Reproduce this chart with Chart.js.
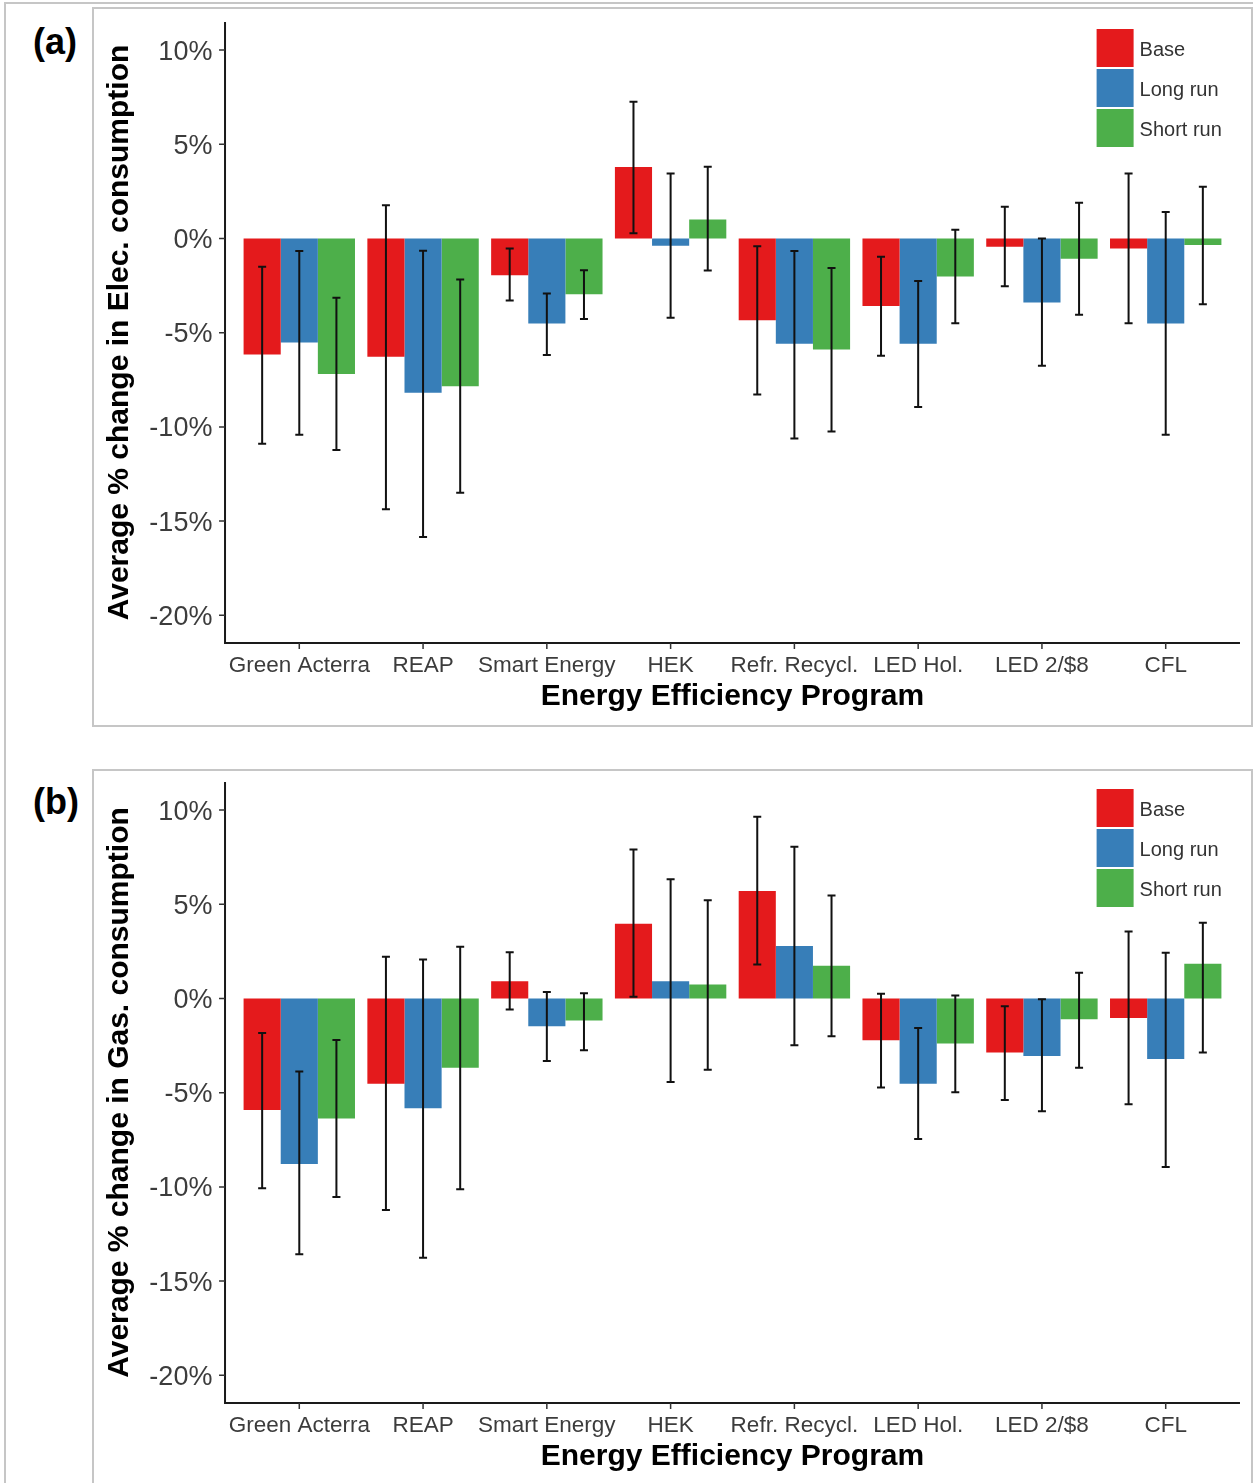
<!DOCTYPE html>
<html>
<head>
<meta charset="utf-8">
<title>Energy Efficiency Programs</title>
<script src="https://cdn.jsdelivr.net/npm/chart.js@4.4.1/dist/chart.umd.min.js"></script>
<style>
    body {
        margin: 0;
        background: #fff;
        width: 1253px;
        height: 1483px;
        overflow: hidden;
        position: relative;
        font-family: 'Liberation Sans', Arial, sans-serif;
    }
    .frame {
        position: absolute;
        border: 2px solid #c6c6c6;
        box-sizing: border-box;
    }
    #outer { left: 4px; top: 2px; width: 1400px; height: 1600px; }
    #box-a { left: 92px; top: 7px; width: 1161px; height: 720px; }
    #box-b { left: 92px; top: 769px; width: 1161px; height: 800px; }
    .tag {
        position: absolute;
        left: 33px;
        font-weight: bold;
        font-size: 36px;
        line-height: 36px;
        color: #000;
    }
    canvas { position: absolute; left: 0; }
</style>
</head>
<body>
<div class="frame" id="outer"></div>
<div class="frame" id="box-a"></div>
<div class="frame" id="box-b"></div>
<div class="tag" style="top: 24px;">(a)</div>
<div class="tag" style="top: 784px;">(b)</div>
<canvas id="elec-chart" width="1253" height="723" style="top: 0px;"></canvas>
<canvas id="gas-chart" width="1253" height="723" style="top: 760px;"></canvas>

<script>
// programs on the x axis
const programs = ['Green Acterra', 'REAP', 'Smart Energy', 'HEK', 'Refr. Recycl.', 'LED Hol.', 'LED 2/$8', 'CFL'];
const seriesNames = ['Base', 'Long run', 'Short run'];
const seriesColors = ['#E41A1C', '#377EB8', '#4DAF4A'];
const yTickValues = [-20, -15, -10, -5, 0, 5, 10];

// (a) electricity, % change with interval bounds
const elecBase    = [-6.16, -6.28, -1.95, 3.79, -4.34, -3.59, -0.44, -0.53];
const elecBaseLo  = [-10.90, -14.37, -3.29, 0.28, -8.28, -6.23, -2.53, -4.50];
const elecBaseHi  = [-1.50, 1.77, -0.53, 7.26, -0.41, -0.97, 1.68, 3.45];
const elecLong    = [-5.52, -8.19, -4.51, -0.39, -5.59, -5.59, -3.40, -4.51];
const elecLongLo  = [-10.42, -15.85, -6.19, -4.21, -10.62, -8.94, -6.76, -10.42];
const elecLongHi  = [-0.67, -0.65, -2.92, 3.45, -0.67, -2.25, 0.00, 1.40];
const elecShort   = [-7.19, -7.84, -2.96, 1.01, -5.89, -2.02, -1.08, -0.35];
const elecShortLo = [-11.22, -13.49, -4.27, -1.70, -10.25, -4.50, -4.05, -3.49];
const elecShortHi = [-3.15, -2.18, -1.68, 3.81, -1.56, 0.46, 1.89, 2.74];

// (b) gas
const gasBase    = [-5.92, -4.52, 0.92, 3.97, 5.71, -2.22, -2.87, -1.03];
const gasBaseLo  = [-10.07, -11.22, -0.59, 0.09, 1.81, -4.73, -5.39, -5.62];
const gasBaseHi  = [-1.83, 2.22, 2.45, 7.91, 9.65, 0.25, -0.41, 3.56];
const gasLong    = [-8.78, -5.82, -1.47, 0.92, 2.78, -4.52, -3.05, -3.21];
const gasLongLo  = [-13.58, -13.76, -3.32, -4.43, -2.48, -7.46, -5.99, -8.95];
const gasLongHi  = [-3.88, 2.07, 0.35, 6.33, 8.05, -1.56, -0.04, 2.43];
const gasShort   = [-6.37, -3.67, -1.17, 0.74, 1.74, -2.39, -1.10, 1.84];
const gasShortLo = [-10.53, -10.12, -2.75, -3.78, -2.00, -4.98, -3.67, -2.87];
const gasShortHi = [-2.20, 2.75, 0.28, 5.21, 5.46, 0.16, 1.37, 4.02];

const FONT = "'Liberation Sans', Arial, sans-serif";
Chart.defaults.font.family = FONT;

// axis lines, tick marks, error bars and the legend are drawn here
const panelDecor = {
    id: 'panelDecor',
    afterDatasetsDraw(chart) {
        const ctx = chart.ctx;
        const xs = chart.scales.x;
        const ys = chart.scales.y;
        const area = chart.chartArea;

        // error bars
        ctx.save();
        ctx.strokeStyle = '#111';
        ctx.lineWidth = 2;
        chart.data.datasets.forEach((ds, i) => {
            const meta = chart.getDatasetMeta(i);
            meta.data.forEach((bar, j) => {
                const top = ys.getPixelForValue(ds.errHi[j]);
                const bot = ys.getPixelForValue(ds.errLo[j]);
                const x = bar.x;
                ctx.beginPath();
                ctx.moveTo(x, top); ctx.lineTo(x, bot);
                ctx.moveTo(x - 4, top); ctx.lineTo(x + 4, top);
                ctx.moveTo(x - 4, bot); ctx.lineTo(x + 4, bot);
                ctx.stroke();
            });
        });
        ctx.restore();

        // axis lines with ggplot-style expansion (0.6 of a band each side)
        const band = xs.getPixelForValue(1) - xs.getPixelForValue(0);
        const left = xs.getPixelForValue(0) - 0.6 * band;
        const right = xs.getPixelForValue(programs.length - 1) + 0.6 * band;
        ctx.save();
        ctx.strokeStyle = '#1a1a1a';
        ctx.lineWidth = 2;
        ctx.beginPath();
        ctx.moveTo(left, area.top);
        ctx.lineTo(left, area.bottom);
        ctx.lineTo(right, area.bottom);
        ctx.stroke();
        ctx.strokeStyle = '#333';
        ctx.lineWidth = 1.5;
        ctx.beginPath();
        yTickValues.forEach(v => {
            const y = ys.getPixelForValue(v);
            ctx.moveTo(left - 6, y); ctx.lineTo(left, y);
        });
        programs.forEach((p, i) => {
            const x = xs.getPixelForValue(i);
            ctx.moveTo(x, area.bottom); ctx.lineTo(x, area.bottom + 6);
        });
        ctx.stroke();
        ctx.restore();

        // legend
        ctx.save();
        const lx = area.right - 131;
        const ly = area.top + 7;
        ctx.font = '20px ' + FONT;
        ctx.textBaseline = 'middle';
        chart.data.datasets.forEach((ds, i) => {
            const y = ly + i * 40;
            ctx.fillStyle = ds.backgroundColor;
            ctx.fillRect(lx, y, 37, 38);
            ctx.fillStyle = '#333';
            ctx.fillText(ds.label, lx + 43, y + 21);
        });
        ctx.restore();
    }
};

function makeChart(canvasId, yTitle, values, lows, highs) {
    const datasets = seriesNames.map((name, i) => ({
        label: name,
        data: values[i],
        errLo: lows[i],
        errHi: highs[i],
        backgroundColor: seriesColors[i],
        borderWidth: 0,
        categoryPercentage: 0.9,
        barPercentage: 1.0
    }));

    const ctx = document.getElementById(canvasId).getContext('2d');
    return new Chart(ctx, {
        type: 'bar',
        data: { labels: programs, datasets: datasets },
        options: {
            responsive: false,
            animation: false,
            devicePixelRatio: 1,
            layout: { padding: { left: 0, top: 22, right: 25.4, bottom: 0 } },
            plugins: {
                legend: { display: false },
                tooltip: { enabled: false }
            },
            scales: {
                x: {
                    offset: true,
                    grid: { display: false, drawTicks: false },
                    border: { display: false },
                    ticks: {
                        color: '#3c3c3c',
                        font: { size: 22.5 },
                        padding: 9,
                        maxRotation: 0,
                        autoSkip: false
                    },
                    title: {
                        display: true,
                        text: 'Energy Efficiency Program',
                        color: '#000',
                        font: { size: 30, weight: 'bold' },
                        padding: { top: 0, bottom: 8 }
                    },
                    afterFit: scale => {
                        scale.height = 80;
                        scale.paddingLeft = 0;
                        scale.paddingRight = 0;
                    }
                },
                y: {
                    min: -21.47,
                    max: 11.49,
                    grid: { display: false, drawTicks: false },
                    border: { display: false },
                    afterBuildTicks: scale => {
                        scale.ticks = yTickValues.map(v => ({ value: v }));
                    },
                    ticks: {
                        color: '#3c3c3c',
                        font: { size: 27 },
                        padding: 25,
                        labelOffset: 2,
                        callback: v => v + '%'
                    },
                    title: {
                        display: true,
                        text: yTitle,
                        color: '#000',
                        font: { size: 30, weight: 'bold' },
                        padding: { top: 102, bottom: 0 }
                    },
                    afterFit: scale => {
                        scale.width = 237.4;
                        scale.paddingTop = 0;
                        scale.paddingBottom = 0;
                    }
                }
            }
        },
        plugins: [panelDecor]
    });
}

makeChart('elec-chart', 'Average % change in Elec. consumption',
    [elecBase, elecLong, elecShort],
    [elecBaseLo, elecLongLo, elecShortLo],
    [elecBaseHi, elecLongHi, elecShortHi]);

makeChart('gas-chart', 'Average % change in Gas. consumption',
    [gasBase, gasLong, gasShort],
    [gasBaseLo, gasLongLo, gasShortLo],
    [gasBaseHi, gasLongHi, gasShortHi]);
</script>
</body>
</html>
